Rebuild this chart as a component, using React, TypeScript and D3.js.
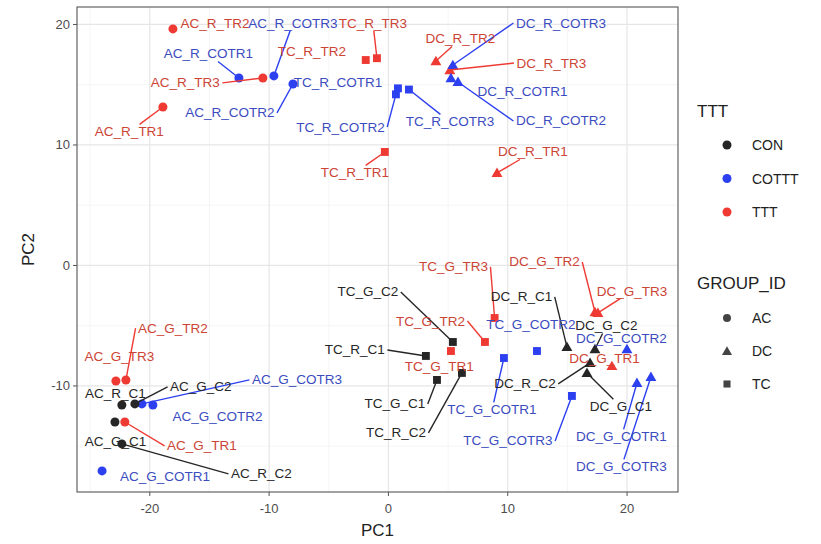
import React from 'react';
import * as d3 from 'd3';

// ---- data (PC scores) ----
const sampleNames = [
  'AC_R_TR1','AC_R_TR2','AC_R_TR3','AC_R_COTR1','AC_R_COTR2','AC_R_COTR3','AC_R_C1','AC_R_C2',
  'AC_G_TR1','AC_G_TR2','AC_G_TR3','AC_G_COTR1','AC_G_COTR2','AC_G_COTR3','AC_G_C1','AC_G_C2',
  'TC_R_TR1','TC_R_TR2','TC_R_TR3','TC_R_COTR1','TC_R_COTR2','TC_R_COTR3','TC_R_C1','TC_R_C2',
  'TC_G_TR1','TC_G_TR2','TC_G_TR3','TC_G_COTR1','TC_G_COTR2','TC_G_COTR3','TC_G_C1','TC_G_C2',
  'DC_R_TR1','DC_R_TR2','DC_R_TR3','DC_R_COTR1','DC_R_COTR2','DC_R_COTR3','DC_R_C1','DC_R_C2',
  'DC_G_TR1','DC_G_TR2','DC_G_TR3','DC_G_COTR1','DC_G_COTR2','DC_G_COTR3','DC_G_C1','DC_G_C2',
];
const pc1 = [
  -18.9, -18.06, -10.52, -12.53, -8.0, -9.6, -22.34, -22.34,
  -22.09, -22.0, -22.84, -24.0, -19.74, -20.66, -22.92, -21.25,
  -0.3, -1.9, -0.96, 0.8, 0.63, 1.72, 3.14, 6.16,
  5.24, 8.09, 8.9, 9.68, 12.45, 15.38, 4.07, 5.4,
  9.1, 3.98, 5.15, 5.24, 5.83, 5.4, 14.96, 16.9,
  18.73, 17.31, 17.56, 20.83, 19.99, 22.0, 16.64, 17.31,
];
const pc2 = [
  13.15, 19.63, 15.56, 15.56, 15.06, 15.73, -11.58, -14.81,
  -12.99, -9.5, -9.59, -17.05, -11.58, -11.49, -12.99, -11.49,
  9.42, 17.05, 17.2, 14.7, 14.2, 14.6, -7.51, -8.92,
  -7.1, -6.35, -4.36, -7.68, -7.1, -10.83, -9.5, -6.35,
  7.68, 16.97, 16.22, 15.56, 15.23, 16.64, -6.76, -8.09,
  -8.34, -3.86, -3.94, -9.75, -6.93, -9.25, -8.92, -6.93,
];
// repelled label positions (in PC units)
const labelPC1 = [
  -21.71, -14.54, -17.02, -15.09, -13.29, -8.0, -22.88, -10.65,
  -15.63, -18.06, -22.55, -18.73, -14.33, -7.67, -22.88, -15.72,
  -2.81, -6.41, -1.3, -4.23, -4.02, 5.16, -2.81, 0.63,
  4.27, 3.52, 5.45, 8.68, 11.94, 10.02, 0.54, -1.72,
  12.11, 6.04, 13.66, 11.23, 14.46, 14.46, 11.15, 11.44,
  18.11, 13.08, 20.41, 19.53, 19.53, 19.53, 19.49, 18.27,
];
const labelPC2 = [
  11.08, 20.12, 15.15, 17.55, 12.66, 20.12, -10.66, -17.3,
  -14.98, -5.19, -7.59, -17.55, -12.57, -9.5, -14.65, -10.08,
  7.68, 17.72, 20.12, 15.15, 11.49, 11.91, -7.01, -13.9,
  -8.42, -4.61, -0.12, -11.99, -4.94, -14.56, -11.49, -2.2,
  9.42, 18.8, 16.8, 14.4, 11.99, 20.12, -2.61, -9.83,
  -7.76, 0.29, -2.12, -14.23, -6.02, -16.72, -11.74, -5.02,
];
const labelsWithoutSegment = [
  'AC_R_TR2','TC_R_COTR1','TC_R_TR2','DC_R_COTR1','AC_G_TR3','AC_R_C1','AC_G_COTR2',
  'AC_G_C1','AC_G_COTR1','TC_G_TR1','TC_G_COTR2','DC_G_COTR2','DC_G_TR1',
];

const tttLevels = ['CON', 'COTTT', 'TTT'];
const groupLevels = ['AC', 'DC', 'TC'];
const xTicks = [-20, -10, 0, 10, 20];
const yTicks = [-10, 0, 10, 20];
const xMinor = [-25, -15, -5, 5, 15];
const yMinor = [-15, -5, 5, 15];

const pointColor: Record<string, string> = { CON: '#262626', COTTT: '#2c40f0', TTT: '#ee3a33' };
const textColor: Record<string, string> = { CON: '#262626', COTTT: '#3b4cc0', TTT: '#cc4436' };

const ttt = (n: string) => (/_C\d/.test(n) ? 'CON' : /COTR/.test(n) ? 'COTTT' : 'TTT');
const grp = (n: string) => n.slice(0, 2);

const FONT = "'Liberation Sans', Arial, Helvetica, sans-serif";
const LABEL_SIZE = 13.5;

let ctx: CanvasRenderingContext2D | null = null;
function measure(t: string, size: number) {
  if (!ctx) ctx = document.createElement('canvas').getContext('2d');
  if (!ctx) return t.length * size * 0.6;
  ctx.font = `${size}px ${FONT}`;
  return ctx.measureText(t).width;
}

function shapePath(g: string, area: number) {
  const type = g === 'AC' ? d3.symbolCircle : g === 'DC' ? d3.symbolTriangle : d3.symbolSquare;
  return d3.symbol().type(type).size(area)() || '';
}

export default function App() {
  const W = 821, H = 544;
  const x = d3.scaleLinear().domain([-26.1, 24.27]).range([77, 678]);
  const y = d3.scaleLinear().domain([-18.8, 21.45]).range([492, 7]);
  const [x0, x1] = x.range();
  const [y0, y1] = [y.range()[1], y.range()[0]];

  const items = sampleNames.map((n, i) => {
    const px = x(pc1[i]), py = y(pc2[i]);
    const lx = x(labelPC1[i]), ly = y(labelPC2[i]);
    const w = measure(n, LABEL_SIZE);
    const pad = 2.5;
    const hw = w / 2 + pad, hh = LABEL_SIZE * 0.375 + pad;
    const dx = px - lx, dy = py - ly;
    let cx: number, cy: number;
    const inX = Math.abs(dx) <= hw + 3;
    if (inX) {
      const t = Math.min(dx === 0 ? Infinity : hw / Math.abs(dx), dy === 0 ? Infinity : hh / Math.abs(dy), 1);
      cx = lx + dx * t; cy = ly + dy * t;
    } else {
      cx = lx + Math.sign(dx) * hw; cy = ly;
    }
    const dist = Math.hypot(cx - px, cy - py);
    const seg = !labelsWithoutSegment.includes(n) && dist > 5;
    return { n, px, py, lx, ly, cx, cy, seg, t: ttt(n), g: grp(n) };
  });

  const shapeArea: Record<string, number> = { AC: 64, DC: 52, TC: 62 };

  return (
    <svg width={W} height={H} style={{ position: 'absolute', left: 0, top: 0, background: '#fff' }} fontFamily={FONT}>
      <rect x={0} y={0} width={W} height={H} fill="#fff" />
      {/* panel grid */}
      <g>
        {xMinor.map(v => (
          <line key={'xm' + v} x1={x(v)} x2={x(v)} y1={y0} y2={y1} stroke="#f0f0f0" strokeWidth={0.7} />
        ))}
        {yMinor.map(v => (
          <line key={'ym' + v} x1={x0} x2={x1} y1={y(v)} y2={y(v)} stroke="#f0f0f0" strokeWidth={0.7} />
        ))}
        {xTicks.map(v => (
          <line key={'xg' + v} x1={x(v)} x2={x(v)} y1={y0} y2={y1} stroke="#e6e6e6" strokeWidth={1.2} />
        ))}
        {yTicks.map(v => (
          <line key={'yg' + v} x1={x0} x2={x1} y1={y(v)} y2={y(v)} stroke="#e6e6e6" strokeWidth={1.2} />
        ))}
      </g>
      {/* points */}
      <g>
        {items.map(d => (
          <path key={'p' + d.n} d={shapePath(d.g, shapeArea[d.g])}
            transform={`translate(${d.px},${d.py + (d.g === 'DC' ? 1 : 0)})`} fill={pointColor[d.t]} />
        ))}
      </g>
      {/* segments */}
      <g>
        {items.filter(d => d.seg).map(d => (
          <line key={'s' + d.n} x1={d.px} y1={d.py} x2={d.cx} y2={d.cy} stroke={pointColor[d.t]} strokeWidth={1.4} />
        ))}
      </g>
      {/* labels */}
      <g fontSize={LABEL_SIZE}>
        {items.map(d => (
          <text key={'t' + d.n} x={d.lx} y={d.ly} textAnchor="middle" dominantBaseline="central" fill={textColor[d.t]}>
            {d.n}
          </text>
        ))}
      </g>
      {/* panel border */}
      <rect x={x0} y={y0} width={x1 - x0} height={y1 - y0} fill="none" stroke="#555" strokeWidth={1.1} />
      {/* axes */}
      <g fontSize={13} fill="#4d4d4d">
        {xTicks.map(v => (
          <g key={'xt' + v}>
            <line x1={x(v)} x2={x(v)} y1={y1} y2={y1 + 4} stroke="#555" />
            <text x={x(v)} y={y1 + 16} textAnchor="middle" dominantBaseline="central">{v}</text>
          </g>
        ))}
        {yTicks.map(v => (
          <g key={'yt' + v}>
            <line x1={x0 - 4} x2={x0} y1={y(v)} y2={y(v)} stroke="#555" />
            <text x={x0 - 7} y={y(v)} textAnchor="end" dominantBaseline="central">{v}</text>
          </g>
        ))}
      </g>
      <text x={(x0 + x1) / 2} y={530} textAnchor="middle" dominantBaseline="central" fontSize={17} fill="#222">PC1</text>
      <text transform={`translate(28,${(y0 + y1) / 2}) rotate(-90)`} textAnchor="middle" dominantBaseline="central" fontSize={17} fill="#222">PC2</text>
      {/* legends */}
      <g>
        <text x={697} y={111} dominantBaseline="central" fontSize={17} fill="#222">TTT</text>
        {tttLevels.map((l, i) => (
          <g key={'lt' + l}>
            <circle cx={727} cy={145 + i * 33.5} r={4.5} fill={pointColor[l]} />
            <text x={752} y={145 + i * 33.5} dominantBaseline="central" fontSize={14} fill="#222">{l}</text>
          </g>
        ))}
        <text x={697} y={283} dominantBaseline="central" fontSize={17} fill="#222">GROUP_ID</text>
        {groupLevels.map((l, i) => (
          <g key={'lg' + l}>
            <path d={shapePath(l, l === 'DC' ? 44 : 50)} transform={`translate(727,${318 + i * 33 + (l === 'DC' ? 1 : 0)})`} fill="#444" />
            <text x={752} y={318 + i * 33} dominantBaseline="central" fontSize={14} fill="#222">{l}</text>
          </g>
        ))}
      </g>
    </svg>
  );
}
